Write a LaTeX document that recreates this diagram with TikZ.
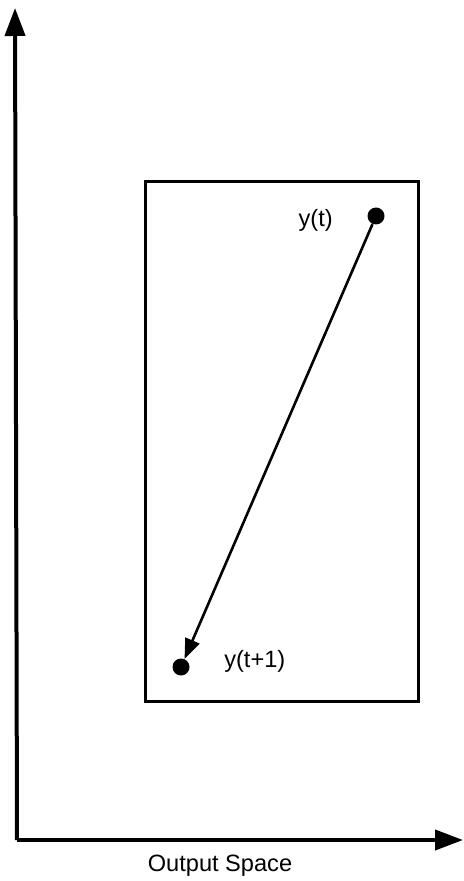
\documentclass[tikz,border=0pt]{standalone}
\usepackage{fontspec}
\setmainfont{Liberation Sans}
\usetikzlibrary{positioning,arrows.meta}

\begin{document}
\begin{tikzpicture}[x=0.5pt, y=-0.5pt,
  axis/.style={line width=2pt, -{Triangle[length=14pt, width=10pt]}},
  frame/.style={draw, line width=1.5pt},
  dot/.style={circle, fill, inner sep=0pt, minimum size=8.5pt},
  lbl/.style={font=\fontsize{11.8}{14}\selectfont, inner sep=0pt},
  arr/.style={line width=1.3pt, -{Triangle[length=10pt, width=7.5pt]}},
  node distance=17pt]
\useasboundingbox (0,0) rectangle (463,881);
% axes
\coordinate (origin) at (17,840);
\coordinate (ytop) at (15,8);
\coordinate (xend) at (463,840);
\draw[axis] (origin) -- (ytop);
\draw[axis] (origin) -- (xend);
% region
\draw[frame] (145,182) rectangle (418,701);
\node[dot] (yt) at (376,216) {};
\node[dot] (ytnext) at (181,667) {};
\node[lbl, left=of yt, yshift=-2pt] (ytlbl) {y(t)};
\node[lbl, right=of ytnext, yshift=3pt] (ytnextlbl) {y(t+1)};
\draw[arr] (yt) -- (ytnext);
\node[lbl] (space) at (220,866) {Output Space};
\end{tikzpicture}
\end{document}
